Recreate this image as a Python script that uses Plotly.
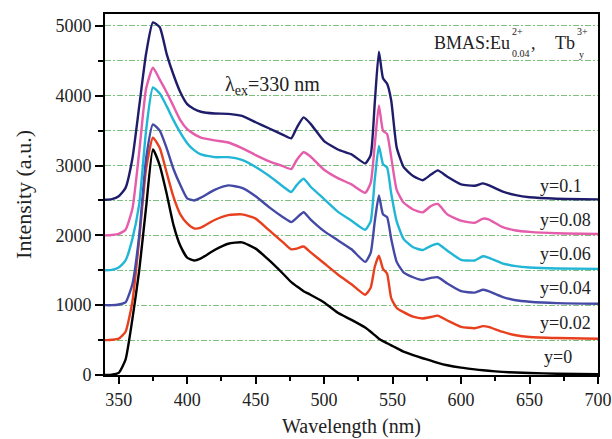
import plotly.graph_objects as go

# Emission spectra of BMAS:Eu0.04, Tby (offset by 500 per Tb content)
wavelength = [340, 345, 350, 355, 360, 365, 370, 375, 380, 385, 390, 395, 400, 405, 410,
              420, 430, 440, 450, 460, 470, 476, 480, 485, 490, 500, 510, 520, 530, 534,
              537, 540, 543, 546, 549, 553, 558, 565, 572, 578, 583, 590, 600, 610, 616,
              620, 630, 640, 650, 670, 700]

i_y0 = [0, 5, 30, 220, 800, 1500, 2400, 3230, 3000, 2600, 2150, 1850, 1680, 1640, 1670,
        1790, 1880, 1900, 1810, 1640, 1450, 1330, 1270, 1200, 1150, 1040, 890, 790, 680, 620,
        570, 520, 485, 455, 425, 385, 335, 285, 240, 205, 175, 140, 105, 80, 68,
        60, 45, 35, 28, 18, 10]

i_y002 = [500, 505, 520, 620, 1050, 1950, 2950, 3400, 3250, 2900, 2550, 2300, 2170, 2100, 2110,
          2220, 2290, 2300, 2240, 2070, 1900, 1800, 1810, 1840, 1760, 1600, 1440, 1300, 1150, 1250,
          1550, 1710, 1520, 1450, 1100, 960, 900, 835, 810, 830, 850, 780, 690, 670, 700,
          690, 620, 570, 545, 530, 520]

i_y004 = [1000, 1000, 1010, 1040, 1300, 2000, 3100, 3590, 3500, 3250, 2950, 2720, 2530, 2500, 2540,
          2650, 2715, 2680, 2560, 2400, 2260, 2190, 2250, 2330, 2230, 2060, 1930, 1800, 1620, 1750,
          2200, 2570, 2300, 2260, 1950, 1620, 1470, 1400, 1360, 1390, 1400, 1310, 1200, 1180, 1220,
          1200, 1120, 1070, 1050, 1030, 1020]

i_y006 = [1500, 1505, 1540, 1640, 1950, 2450, 3500, 4120, 4030, 3850, 3650, 3470, 3320, 3220, 3160,
          3120, 3120, 3080, 2980, 2850, 2700, 2620, 2720, 2810, 2700, 2520, 2340, 2210, 2080, 2200,
          2800, 3280, 3020, 2970, 2600, 2200, 1950, 1830, 1790, 1850, 1880, 1780, 1650, 1640, 1700,
          1680, 1600, 1560, 1540, 1525, 1520]

i_y008 = [2000, 2005, 2020, 2080, 2380, 3200, 4100, 4400, 4230, 4050, 3850, 3650, 3520, 3450, 3400,
          3360, 3330, 3250, 3150, 3060, 2990, 2950, 3080, 3190, 3130, 2940, 2820, 2730, 2610, 2750,
          3300, 3860, 3500, 3450, 3120, 2650, 2470, 2370, 2330, 2420, 2450, 2300, 2210, 2180, 2240,
          2230, 2120, 2070, 2050, 2030, 2020]

i_y01 = [2510, 2520, 2560, 2680, 3100, 3850, 4600, 5050, 4980, 4600, 4300, 4050, 3880, 3810, 3770,
         3745, 3740, 3710, 3620, 3530, 3440, 3390, 3540, 3690, 3600, 3350, 3230, 3160, 3030, 3150,
         3900, 4630, 4250, 4170, 3930, 3260, 2980, 2850, 2790, 2870, 2930, 2840, 2730, 2710, 2745,
         2720, 2630, 2575, 2545, 2525, 2515]

series = [
    ("y=0", i_y0, "#000000", 251),
    ("y=0.02", i_y002, "#e8401e", 738),
    ("y=0.04", i_y004, "#4549a6", 1239),
    ("y=0.06", i_y006, "#22b6d6", 1726),
    ("y=0.08", i_y008, "#e45caa", 2213),
    ("y=0.1", i_y01, "#1f1d6b", 2713),
]

FONT = "Liberation Serif"
INK = "#222"

fig = go.Figure()
annotations = []
for name, vals, color, label_y in series:
    fig.add_trace(go.Scatter(
        x=wavelength, y=vals, mode="lines", name=name,
        line=dict(color=color, width=2.4, shape="spline", smoothing=0.5),
        showlegend=False,
    ))
    annotations.append(dict(
        x=656 if name != "y=0" else 659, y=label_y, xref="x", yref="y",
        text=name, showarrow=False, xanchor="left", yanchor="middle",
        font=dict(family=FONT, size=18, color=INK),
    ))

# excitation wavelength note
annotations.append(dict(
    x=426, y=4150, xref="x", yref="y", text="λ<sub>ex</sub>=330 nm",
    showarrow=False, xanchor="left", yanchor="middle",
    font=dict(family=FONT, size=20, color=INK),
))


# composition label with stacked super/subscripts
def txt(x, y, t, size):
    return dict(x=x, y=y, xref="x", yref="y", text=t, showarrow=False,
                xanchor="left", yanchor="middle",
                font=dict(family=FONT, size=size, color=INK))


annotations += [
    txt(579.0, 4756, "BMAS:Eu", 18),
    txt(635.5, 4921, "2+", 10),
    txt(635.5, 4606, "0.04", 10),
    txt(649.5, 4756, ",", 18),
    txt(667.5, 4756, "Tb", 18),
    txt(683.5, 4921, "3+", 10),
    txt(685.0, 4590, "y", 10),
]

fig.update_layout(
    width=612, height=439,
    margin=dict(l=105, r=14, t=14, b=64, autoexpand=False),
    paper_bgcolor="white", plot_bgcolor="white",
    font=dict(family=FONT, size=18, color=INK),
    annotations=annotations,
)

fig.update_xaxes(
    range=[340, 700], tick0=350, dtick=50, automargin=False,
    ticks="outside", ticklen=7, tickwidth=1.5, tickcolor="black",
    minor=dict(dtick=25, ticks="outside", ticklen=4, tickwidth=1.5, tickcolor="black"),
    showline=True, linecolor="black", linewidth=2, mirror=True,
    showgrid=False, zeroline=False,
    tickfont=dict(family=FONT, size=18, color=INK),
    title=dict(text="Wavelength (nm)", font=dict(family=FONT, size=20, color=INK), standoff=10),
)

grid_style = dict(gridcolor="rgba(70,165,70,0.7)", gridwidth=1, griddash="6px,2px,2px,2px")
fig.update_yaxes(
    range=[0, 5170], tick0=0, dtick=1000, automargin=False,
    ticks="outside", ticklen=8, tickwidth=1.5, tickcolor="black",
    minor=dict(dtick=500, ticks="outside", ticklen=5, tickwidth=1.5, tickcolor="black",
               showgrid=True, **grid_style),
    showgrid=True, **grid_style,
    showline=True, linecolor="black", linewidth=2, mirror=True,
    zeroline=False,
    tickfont=dict(family=FONT, size=18, color=INK),
    title=dict(text="Intensity (a.u.)", font=dict(family=FONT, size=22, color=INK), standoff=18),
)

fig.write_html("out.html")
